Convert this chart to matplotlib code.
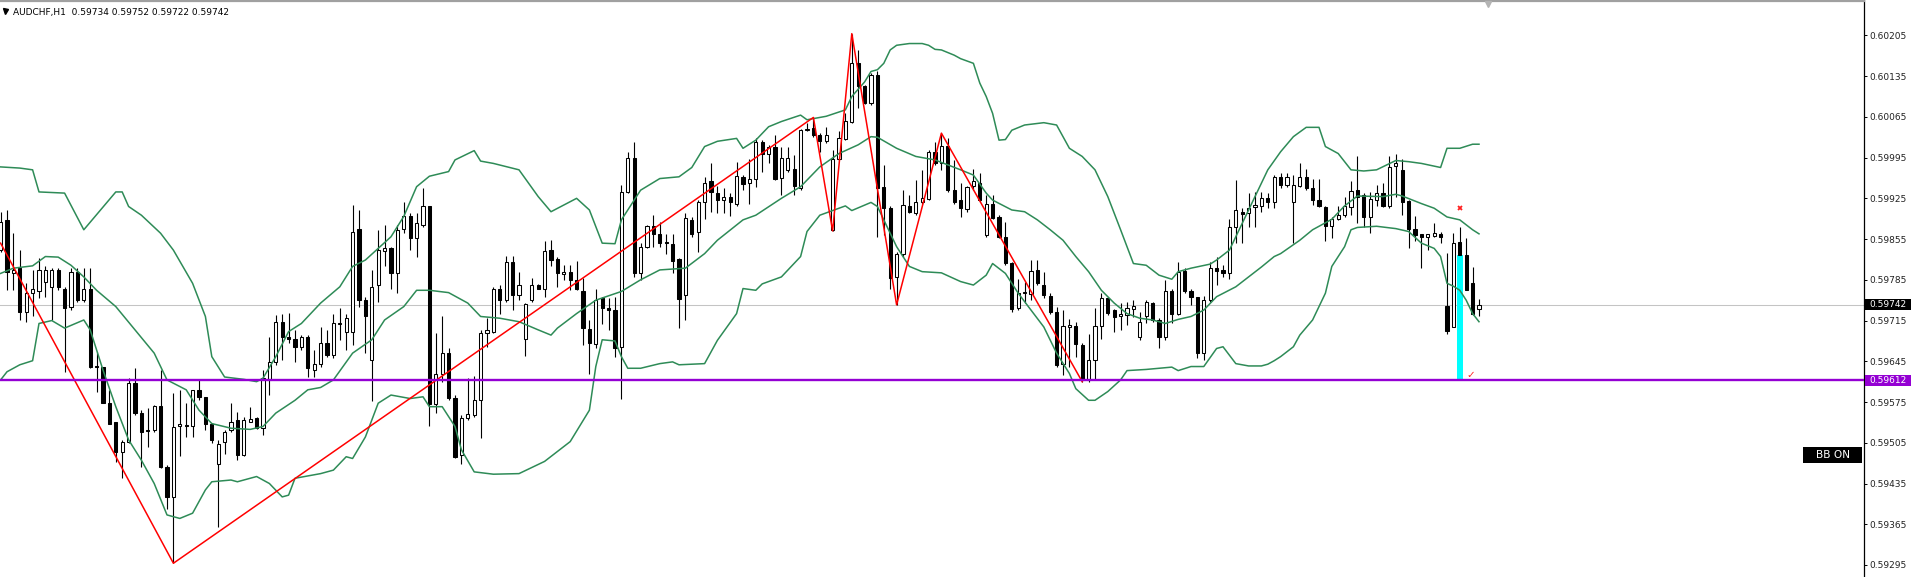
import matplotlib
matplotlib.use('Agg')
import matplotlib.pyplot as plt
from matplotlib.patches import Rectangle
from matplotlib.lines import Line2D
import numpy as np

# ---------------- data (prices in points, 1 point = 0.00001) ----------------
O = [59836,59888,59796,59805,59730,59762,59765,59782,59772,59802,
     59770,59738,59798,59751,59770,59636,59635,59574,59540,59490,
     59507,59607,59556,59527,59527,59568,59464,59412,59533,59535,
     59533,59596,59583,59537,59468,59507,59527,59544,59484,59541,
     59547,59530,59613,59643,59713,59686,59683,59670,59686,59630,
     59641,59676,59656,59709,59696,59696,59872,59751,59648,59776,
     59835,59839,59796,59873,59894,59857,59879,59912,59572,59624,
     59660,59582,59484,59547,59553,59578,59693,59696,59769,59750,
     59815,59759,59684,59750,59776,59770,59836,59820,59795,59798,
     59784,59765,59700,59675,59753,59736,59733,59669,59936,59995,
     59796,59842,59878,59864,59850,59846,59820,59759,59888,59868,
     59919,59954,59935,59923,59928,59915,59962,59951,59958,60022,
     60002,60014,59960,59974,59975,59943,60042,60046,60034,60023,
     59871,59993,60027,60057,60158,60118,60088,60137,59944,59908,
     59790,59830,59912,59899,59919,59924,60005,59985,60015,59939,
     59922,59906,59946,59951,59862,59915,59893,59859,59814,59736,
     59762,59761,59802,59776,59758,59729,59640,59704,59706,59673,
     59613,59648,59706,59753,59733,59723,59724,59734,59687,59722,
     59746,59716,59687,59766,59726,59801,59765,59755,59659,59751,
     59806,59802,59796,59876,59902,59899,59910,59912,59926,59918,
     59961,59948,59919,59946,59961,59943,59923,59910,59877,59889,
     59896,59910,59939,59931,59893,59923,59934,59911,59981,59973,
     59921,59873,59863,59858,59860,59864,59740,59704,59850,59828,
     59779,59734]
Hh = [59902,59905,59865,59836,59779,59802,59822,59808,59805,59805,
      59773,59805,59805,59805,59805,59661,59636,59596,59541,59510,
      59616,59633,59561,59564,59570,59630,59467,59590,59596,59573,
      59596,59613,59584,59538,59510,59527,59573,59558,59550,59567,
      59550,59630,59686,59724,59727,59728,59699,59690,59690,59664,
      59704,59699,59727,59736,59727,59914,59905,59756,59802,59871,
      59879,59842,59879,59919,59899,59899,59942,59912,59693,59722,
      59667,59587,59553,59616,59619,59699,59719,59773,59776,59826,
      59826,59799,59745,59788,59777,59852,59853,59825,59810,59810,
      59817,59788,59716,59769,59756,59753,59755,59948,60005,60022,
      59848,59879,59896,59885,59864,59864,59822,59899,59893,59922,
      59962,59985,59946,59942,59934,59988,59965,59993,60028,60025,
      60017,60034,60014,60014,60000,60045,60054,60064,60037,60048,
      60008,60040,60071,60208,60180,60120,60140,60143,59982,59911,
      59833,59939,59931,59957,59974,60008,60022,60037,60028,59991,
      59951,59946,59975,59968,59931,59931,59897,59885,59816,59786,
      59782,59819,59819,59799,59762,59739,59733,59717,59713,59676,
      59692,59736,59762,59756,59734,59745,59747,59750,59730,59751,
      59747,59719,59785,59769,59816,59805,59770,59756,59757,59816,
      59825,59810,59890,59957,59908,59934,59936,59936,59935,59965,
      59968,59968,59965,59985,59975,59959,59959,59911,59893,59912,
      59928,59954,59998,59935,59936,59948,59951,59997,60002,59992,
      59922,59895,59864,59864,59883,59868,59831,59866,59875,59856,
      59807,59752]
L = [59833,59767,59767,59716,59713,59722,59753,59756,59716,59767,
     59627,59733,59747,59747,59633,59593,59573,59538,59472,59444,
     59504,59553,59464,59498,59524,59461,59392,59298,59483,59515,
     59515,59578,59527,59504,59361,59486,59524,59475,59482,59540,
     59528,59518,59587,59639,59647,59676,59643,59664,59618,59618,
     59636,59653,59650,59682,59664,59673,59739,59659,59576,59747,
     59808,59769,59762,59865,59837,59825,59876,59533,59556,59610,
     59578,59478,59469,59544,59550,59513,59670,59693,59727,59747,
     59733,59750,59654,59747,59769,59756,59808,59773,59785,59767,
     59767,59673,59624,59667,59709,59699,59653,59580,59934,59790,
     59785,59839,59842,59842,59830,59796,59702,59716,59859,59833,
     59890,59902,59899,59899,59895,59912,59939,59915,59945,59971,
     59986,59957,59931,59971,59931,59939,60040,60031,60005,60020,
     59869,59991,60025,60055,60080,60087,60086,59859,59862,59770,
     59742,59825,59899,59896,59916,59922,59982,59974,59936,59916,
     59893,59902,59939,59919,59859,59889,59856,59810,59730,59733,
     59745,59750,59776,59753,59727,59636,59621,59636,59653,59610,
     59610,59613,59684,59724,59696,59699,59707,59721,59682,59710,
     59713,59667,59682,59710,59724,59762,59742,59650,59647,59747,
     59776,59790,59787,59849,59849,59876,59876,59902,59908,59908,
     59942,59945,59848,59945,59939,59914,59910,59851,59856,59887,
     59893,59896,59882,59876,59865,59911,59910,59908,59928,59896,
     59840,59851,59806,59836,59858,59848,59692,59704,59827,59767,
     59725,59722]
C = [59885,59799,59802,59730,59762,59769,59802,59802,59802,59772,
     59736,59798,59751,59769,59636,59635,59573,59538,59490,59507,
     59607,59556,59524,59526,59568,59463,59412,59532,59538,59534,
     59596,59583,59538,59510,59503,59524,59541,59484,59544,59545,
     59530,59616,59643,59713,59686,59684,59670,59687,59633,59641,
     59676,59656,59710,59710,59719,59868,59750,59722,59773,59836,
     59839,59797,59871,59894,59857,59883,59912,59572,59624,59659,
     59582,59480,59547,59554,59578,59693,59699,59770,59750,59815,
     59759,59776,59743,59776,59770,59835,59819,59796,59798,59785,
     59769,59703,59676,59751,59736,59733,59667,59936,59994,59796,
     59842,59878,59864,59849,59848,59818,59752,59892,59864,59919,
     59952,59936,59922,59928,59919,59964,59949,59959,60022,60002,
     60014,59958,59994,59994,59946,60042,60045,60033,60023,60034,
     59993,60028,60058,60158,60118,60088,60137,59942,59908,59788,
     59830,59914,59902,59919,59925,60005,59985,60015,59939,59919,
     59908,59945,59954,59922,59916,59892,59859,59814,59734,59762,
     59764,59801,59779,59759,59729,59639,59706,59707,59675,59613,
     59647,59706,59753,59728,59721,59726,59736,59740,59712,59747,
     59716,59687,59766,59726,59799,59765,59756,59659,59751,59806,
     59801,59797,59876,59905,59898,59908,59913,59925,59918,59962,
     59948,59962,59948,59961,59942,59922,59911,59877,59889,59897,
     59912,59938,59928,59893,59924,59934,59912,59979,59985,59919,
     59872,59862,59858,59863,59865,59858,59697,59849,59827,59767,
     59727,59742]

# Bollinger bands (bar index, value in points)
UB_I = [0,3,5,6,10,13,18,19,20,22,25,27,30,32,33,35,38,40,41,43,45,47,50,53,55,57,61,63,65,67,
        70,71,74,75,77,81,84,86,90,92,94,96,97,100,103,106,108,110,112,115,116,118,120,122,125,126,
        129,132,133,135,136,137,138,139,140,142,144,145,146,147,149,150,152,153,154,155,156,157,158,
        160,163,165,167,169,171,173,175,177,179,181,183,184,186,189,190,192,194,196,198,200,202,204,
        206,207,209,211,213,215,218,220,222,225,226,228,230,231]
UB_V = [59979,59977,59974,59936,59934,59871,59936,59936,59911,59896,59865,59836,59779,59722,59653,
        59618,59614,59610,59616,59653,59696,59710,59745,59773,59808,59819,59859,59894,59945,59963,
        59971,59991,60007,59989,59985,59974,59928,59902,59925,59905,59848,59847,59888,59939,59959,
        59962,59978,60014,60023,60028,60011,60025,60048,60057,60068,60060,60066,60077,60100,60125,
        60143,60146,60157,60180,60188,60191,60191,60188,60181,60180,60171,60165,60157,60123,60100,
        60071,60025,60026,60042,60051,60055,60051,60011,59997,59974,59928,59871,59813,59810,59793,
        59786,59799,59805,59812,59819,59836,59882,59928,59974,60005,60031,60047,60047,60014,60002,
        59974,59972,59974,59990,59988,59985,59978,60011,60011,60018,60018]
MB_I = [0,2,5,7,9,11,13,15,18,21,24,26,29,31,33,36,39,41,43,46,48,50,52,55,58,60,63,65,67,70,73,
        75,78,81,84,86,87,90,93,97,100,103,107,110,112,116,118,122,125,128,131,134,136,137,140,143,
        146,150,152,154,155,158,160,162,164,166,168,170,172,174,176,178,180,182,184,186,188,190,193,
        195,197,199,200,203,205,208,210,212,216,218,219,222,224,226,228,230,231]
MB_V = [59796,59805,59809,59825,59824,59810,59790,59767,59739,59699,59659,59613,59596,59561,59538,
        59530,59528,59533,59556,59578,59596,59600,59613,59659,59682,59716,59739,59767,59767,59763,
        59745,59722,59719,59713,59699,59690,59702,59727,59750,59765,59785,59802,59805,59830,59853,
        59888,59896,59925,59945,59979,60002,60017,60031,60030,60011,59997,59991,59974,59965,59934,
        59922,59905,59902,59888,59871,59853,59825,59799,59767,59745,59727,59719,59716,59710,59717,
        59722,59733,59756,59773,59790,59807,59825,59830,59853,59871,59889,59912,59929,59928,59932,
        59929,59916,59908,59893,59888,59871,59864]
LB_I = [0,1,3,5,6,8,10,13,14,16,18,20,22,24,26,28,30,32,33,36,37,40,42,44,45,46,50,52,54,55,57,
        59,61,64,66,67,69,71,72,74,77,81,85,89,92,93,94,96,97,98,100,103,105,106,110,112,115,116,
        118,119,122,125,126,128,130,132,133,136,137,140,142,144,147,150,152,154,155,157,159,161,163,
        165,167,168,170,171,173,175,176,179,183,184,186,188,190,191,193,195,197,198,199,200,202,203,
        205,207,208,210,211,212,215,218,220,222,224,225,226,227,228,229,230,231]
LB_V = [59613,59627,59639,59646,59710,59715,59702,59716,59699,59630,59567,59510,59475,59435,59381,
        59375,59384,59424,59438,59441,59438,59447,59435,59412,59415,59444,59452,59458,59481,59478,
        59515,59573,59587,59581,59584,59567,59567,59533,59493,59455,59451,59452,59473,59507,59561,
        59636,59682,59680,59653,59633,59633,59641,59644,59639,59641,59681,59727,59770,59767,59778,
        59790,59825,59868,59896,59904,59912,59904,59918,59911,59842,59808,59799,59797,59782,59776,
        59793,59813,59796,59762,59733,59704,59659,59624,59598,59578,59578,59593,59613,59629,59631,
        59635,59629,59636,59636,59667,59670,59641,59637,59637,59640,59646,59653,59670,59690,59716,
        59762,59808,59842,59871,59875,59877,59873,59868,59848,59839,59825,59779,59774,59767,59750,
        59727,59713]

# ZigZag vertices (bar index, price in points)
ZZ_I = [0, 27, 127, 130, 133, 140, 147, 169]
ZZ_V = [59848, 59298, 60064, 59869, 60208, 59742, 60037, 59610]

TICKS = [0.60205, 0.60135, 0.60065, 0.59995, 0.59925, 0.59855, 0.59785,
         0.59715, 0.59645, 0.59575, 0.59505, 0.59435, 0.59365, 0.59295]
BID = 0.59742
LEVEL = 0.59612
SIGNAL_BAR = 228
SIGNAL_TOP = 0.59827
CROSS_BAR, CROSS_PRICE = 228, 0.59909
CHECK_BAR, CHECK_PRICE = 229.7, 0.59621
HEADER = 'AUDCHF,H1  0.59734 0.59752 0.59722 0.59742'

# ---------------- layout ----------------
W, H = 1913, 577
AX_R = 1864
SP = 6.4
X0 = 0.6
PXU = 58198.0
P_TOP = 0.602658

fig = plt.figure(figsize=(W / 100, H / 100), dpi=100)
fig.patch.set_facecolor('white')
ax = fig.add_axes([0, 0, AX_R / W, 1])
ax.set_facecolor('white')
ax.set_xlim(-X0 / SP, (AX_R - X0) / SP)
ax.set_ylim(P_TOP - H / PXU, P_TOP)

o = np.array(O) / 1e5
h = np.array(Hh) / 1e5
l = np.array(L) / 1e5
c = np.array(C) / 1e5
idx = np.arange(len(o))

# level lines
ax.axhline(BID, color='#c4c4c4', lw=0.75, zorder=1)

# cyan signal bar
ax.bar([SIGNAL_BAR], [SIGNAL_TOP - LEVEL], bottom=LEVEL, width=0.9,
       color='#00ffff', zorder=2)

# candles
ax.vlines(idx, l, h, color='black', lw=0.8, zorder=3)
up = c >= o
bottoms = np.minimum(o, c)
heights = np.maximum(np.abs(c - o), 0.000012)
ax.bar(idx, heights, bottom=bottoms, width=0.5,
       color=np.where(up, 'white', 'black'), edgecolor='black',
       linewidth=0.75, zorder=4)

# bands
GREEN = '#2e8b57'
for bi, bv in ((UB_I, UB_V), (MB_I, MB_V), (LB_I, LB_V)):
    ax.plot(bi, np.array(bv) / 1e5, color=GREEN, lw=1.1, zorder=5,
            solid_joinstyle='round')

# zigzag
ax.plot(ZZ_I, np.array(ZZ_V) / 1e5, color='#ff0000', lw=1.1, zorder=6)

# purple support level
ax.axhline(LEVEL, color='#9400d3', lw=1.7, zorder=6)

# signal marks
ax.plot([CROSS_BAR], [CROSS_PRICE], marker='x', color='#ff2020', ms=3.5,
        mew=1.3, zorder=7)
ax.text(CHECK_BAR, CHECK_PRICE, '\u2713', color='#ff2020', fontsize=7.5,
        ha='center', va='center', zorder=7)

# axis styling
for s in ('top', 'left', 'bottom'):
    ax.spines[s].set_visible(False)
ax.spines['right'].set_color('black')
ax.spines['right'].set_linewidth(0.9)
ax.set_xticks([])
ax.yaxis.tick_right()
ax.set_yticks(TICKS)
ax.set_yticklabels([f'{t:.5f}' for t in TICKS])
ax.tick_params(axis='y', direction='out', length=2.2, width=0.7, pad=1.5,
               labelsize=6.5, colors='black', labelcolor='#222222')


def py(price):
    return (P_TOP - price) * PXU


def fig_box(x0, y0, w, hgt, fc, text, fs=6.5):
    fig.add_artist(Rectangle((x0 / W, 1 - (y0 + hgt) / H), w / W, hgt / H,
                             transform=fig.transFigure, fc=fc, ec='none'))
    fig.text((x0 + w / 2) / W, 1 - (y0 + hgt / 2) / H, text, color='white',
             ha='center', va='center', fontsize=fs)


fig_box(1865, py(BID) - 5.5, 46, 11, 'black', f'{BID:.5f}')
fig_box(1865, py(LEVEL) - 5.5, 46, 11, '#9400d3', f'{LEVEL:.5f}')
fig_box(1803, 447, 59, 15.5, 'black', 'BB ON', fs=7.6)

# top border and markers
fig.add_artist(Line2D([0, AX_R / W], [1 - 0.8 / H] * 2, color='#a0a0a0',
                      lw=1.6, transform=fig.transFigure))
fig.add_artist(Line2D([1488 / W], [1 - 3.5 / H], marker='v', ms=4.5,
                      color='#b4b4b4', transform=fig.transFigure))
fig.add_artist(Line2D([4.5 / W], [1 - 11 / H], marker='v', ms=3.6,
                      color='black', transform=fig.transFigure))
fig.text(13 / W, 1 - 14.5 / H, HEADER, fontsize=6.5, va='baseline',
         color='black')

fig.savefig('out.png', dpi=100, facecolor='white')
